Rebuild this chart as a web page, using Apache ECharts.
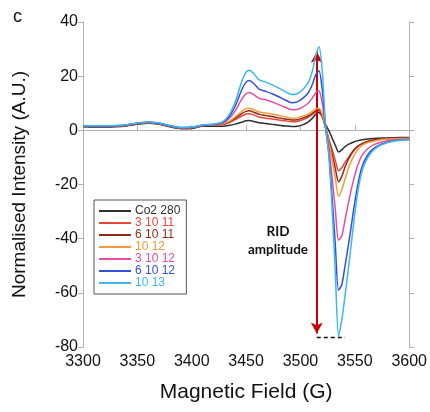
<!DOCTYPE html>
<html><head><meta charset="utf-8">
<script src="https://cdn.jsdelivr.net/npm/echarts@6/dist/echarts.min.js"></script>
<style>html,body{margin:0;padding:0;background:#fff}#c{width:430px;height:412px}</style>
</head><body><div id="c"></div>
<script>
var fieldG = [3300,3310,3320,3330,3340,3350,3360,3370,3380,3390,3400,3410,3420,3428,3434,3440,3446,3450,3453,3457,3462,3468,3474,3480,3486,3492,3497,3502,3507,3511,3514,3517,3520,3523,3526,3529,3532,3535,3538,3541,3545,3549,3553,3557,3562,3568,3575,3585,3600];

var co2_280 = [1.3,1.2,1.2,1.3,1.6,2.2,2.6,2.2,1.3,0.6,0.7,1.5,1.5, 1.5,1.8,2.3,3.0,3.5,3.6,3.3,2.8,2.5,2.2,1.9,1.6,1.4,1.5,2.0,3.0,4.5,5.9,6.6,5.0,2.2,0,-2.8,-5.5,-8,-7.2,-6,-5,-4.3,-3.8,-3.5,-3.2,-3.0,-2.8,-2.7,-2.6];
var s3_10_11 = [1.6,1.5,1.5,1.6,1.9,2.5,2.9,2.5,1.6,0.9,1.0,1.8,2.0, 2.1,2.8,4.0,5.3,6.0,6.1,5.7,4.9,4.5,4.2,3.8,3.5,3.2,3.3,3.9,4.8,5.9,6.8,7.2,5.3,1.0,-3,-7,-11,-14.9,-13.8,-11.8,-9.5,-7.2,-5.8,-4.9,-4.2,-3.7,-3.3,-3.0,-2.9];
var s6_10_11 = [1.5,1.4,1.4,1.5,1.8,2.4,2.8,2.4,1.5,0.8,0.9,1.7,1.9, 2.2,3.0,4.5,6.2,7.0,7.2,6.7,5.9,5.5,5.1,4.6,4.2,3.8,3.9,4.5,5.3,6.3,7.2,7.6,5.5,1.0,-3.5,-8.5,-14,-19,-17,-13.5,-10,-7.5,-5.8,-4.8,-4.0,-3.5,-3.2,-3.0,-3.0];
var s10_12 = [1.6,1.5,1.5,1.6,1.9,2.5,2.9,2.5,1.6,0.9,1.0,1.8,2.0, 2.3,3.2,5.0,7.0,8.0,8.2,7.6,6.8,6.4,6.0,5.5,5.0,4.5,4.6,5.2,6.0,7.0,7.9,8.2,6.0,1.0,-4,-10.5,-17.5,-24.3,-22,-18,-13,-9.5,-7,-5.5,-4.5,-3.9,-3.4,-3.1,-3.0];
var s3_10_12 = [1.7,1.6,1.6,1.7,2.0,2.6,3.0,2.6,1.7,1.0,1.1,1.9,2.1, 2.6,4.2,7.2,11.5,13.5,14.0,13.2,11.8,11.3,10.5,9.5,8.5,7.6,7.7,8.6,10.0,12.0,13.8,14.6,10.0,1.5,-6,-17,-29,-40.5,-39,-33,-25,-18,-12.5,-9,-6.8,-5.2,-4.3,-3.6,-3.3];
var s6_10_12 = [1.7,1.6,1.6,1.7,2.0,2.6,3.0,2.6,1.7,1.0,1.1,1.9,2.2, 2.8,4.8,9.0,15.0,17.8,18.4,17.3,15.2,14.4,13.5,12.4,11.2,10.2,10.5,11.8,13.8,17.0,20.5,22.0,15.0,1.5,-8,-24,-42,-59,-57,-50,-40,-29,-19.5,-13,-9,-6.5,-5.0,-3.9,-3.4];
var s10_13 = [1.8,1.7,1.7,1.8,2.1,2.7,3.1,2.7,1.8,1.1,1.2,2.0,2.3, 3.0,5.5,10.5,18.0,21.5,22.2,21.0,18.6,17.8,16.8,15.6,14.3,13.2,13.5,15.0,17.5,22.0,27.5,31.0,22.0,2.0,-9,-28,-52,-76,-70,-61,-48,-34,-22,-14.6,-10,-7,-5.3,-4.0,-3.5];

var seriesNames = ['Co2 280','3 10 11','6 10 11','10 12','3 10 12','6 10 12','10 13'];
var seriesValues = [co2_280, s3_10_11, s6_10_11, s10_12, s3_10_12, s6_10_12, s10_13];
var seriesColors = ['#2e2e2e','#e8473b','#8e2a17','#f59a3c','#e84c9c','#3250d6','#3bb6ef'];

var yTicks = {min:-80, max:40, step:20};
var xTicks = {min:3300, max:3600, step:50};

// annotation (RID amplitude arrow & dashed level)
var ridArrowX = 3515, ridTop = 29, ridBottom = -75;
var ridDash = [[3515,-76.5],[3541,-76.5]];

var chart = echarts.init(document.getElementById('c'));
var axisColor = '#b0b0b0';
var series = seriesNames.map(function(n,i){
  return {name:n, type:'line', symbol:'none', smooth:0.25, z:2+i,
    data: fieldG.map(function(x,j){return [x, seriesValues[i][j]];}),
    lineStyle:{width:1.5, color:seriesColors[i]}, itemStyle:{color:seriesColors[i]}};
});
series.push({name:'rid', type:'line', data:[], z:20, silent:true,
  markLine:{silent:true, symbol:['arrow','arrow'], symbolSize:[9,11], label:{show:false},
    lineStyle:{color:'#c80000', width:2, type:'solid'},
    data:[[{coord:[ridArrowX, ridTop]},{coord:[ridArrowX, ridBottom]}]]}});
series.push({name:'ridDash', type:'line', data:ridDash, symbol:'none', z:19, silent:true,
  lineStyle:{color:'#111', width:1.5, type:[4,3]}});

chart.setOption({
  animation:false,
  grid:{left:83, right:20, top:22, bottom:65},
  legend:{left:94, top:200, orient:'vertical', itemGap:0, itemWidth:32, itemHeight:2, icon:'rect',
    borderColor:'#555', borderWidth:1, padding:[5,6,5,5], itemStyle:{borderWidth:0},
    textStyle:{fontFamily:'Liberation Sans', fontSize:12, lineHeight:12, padding:[0,0,0,-1]},
    data: seriesNames.map(function(n,i){return {name:n, textStyle:{color:seriesColors[i]}};})},
  xAxis:[{type:'value', min:xTicks.min, max:xTicks.max, interval:xTicks.step, position:'bottom',
    name:'Magnetic Field (G)', nameLocation:'middle', nameGap:35,
    nameTextStyle:{fontFamily:'Liberation Sans', fontSize:21, color:'#111'},
    axisLine:{show:true, lineStyle:{color:axisColor}}, axisTick:{show:false},
    axisLabel:{fontFamily:'Liberation Sans', fontSize:16, color:'#111', margin:7, formatter:function(v){return String(v);}}, splitLine:{show:false}},
   {type:'value', min:xTicks.min, max:xTicks.max, interval:xTicks.step, position:'top',
    axisLine:{show:true, lineStyle:{color:axisColor}}, axisTick:{show:true, length:5, lineStyle:{color:axisColor}},
    axisLabel:{show:false}, splitLine:{show:false}}],
  yAxis:[{type:'value', min:yTicks.min, max:yTicks.max, interval:yTicks.step, position:'left',
    name:'Normalised Intensity (A.U.)', nameLocation:'middle', nameGap:54,
    nameTextStyle:{fontFamily:'Liberation Sans', fontSize:19, color:'#111'},
    axisLine:{show:true, lineStyle:{color:axisColor}}, axisTick:{show:true, length:5, lineStyle:{color:axisColor}},
    axisLabel:{fontFamily:'Liberation Sans', fontSize:16, color:'#111', margin:5}, splitLine:{show:false}},
   {type:'value', min:yTicks.min, max:yTicks.max, interval:yTicks.step, position:'right',
    axisLine:{show:true, lineStyle:{color:axisColor}}, axisTick:{show:true, length:5, lineStyle:{color:axisColor}},
    axisLabel:{show:false}, splitLine:{show:false}}],
  graphic:[
    {type:'text', left:13, top:8, style:{text:'c', font:'18px "Liberation Sans"', fill:'#111'}},
    {type:'text', x:278, y:241, style:{text:'RID\namplitude', font:'bold 13.5px Lato', fill:'#111', align:'center', verticalAlign:'middle', lineHeight:18}}
  ],
  series:series
});
</script></body></html>
